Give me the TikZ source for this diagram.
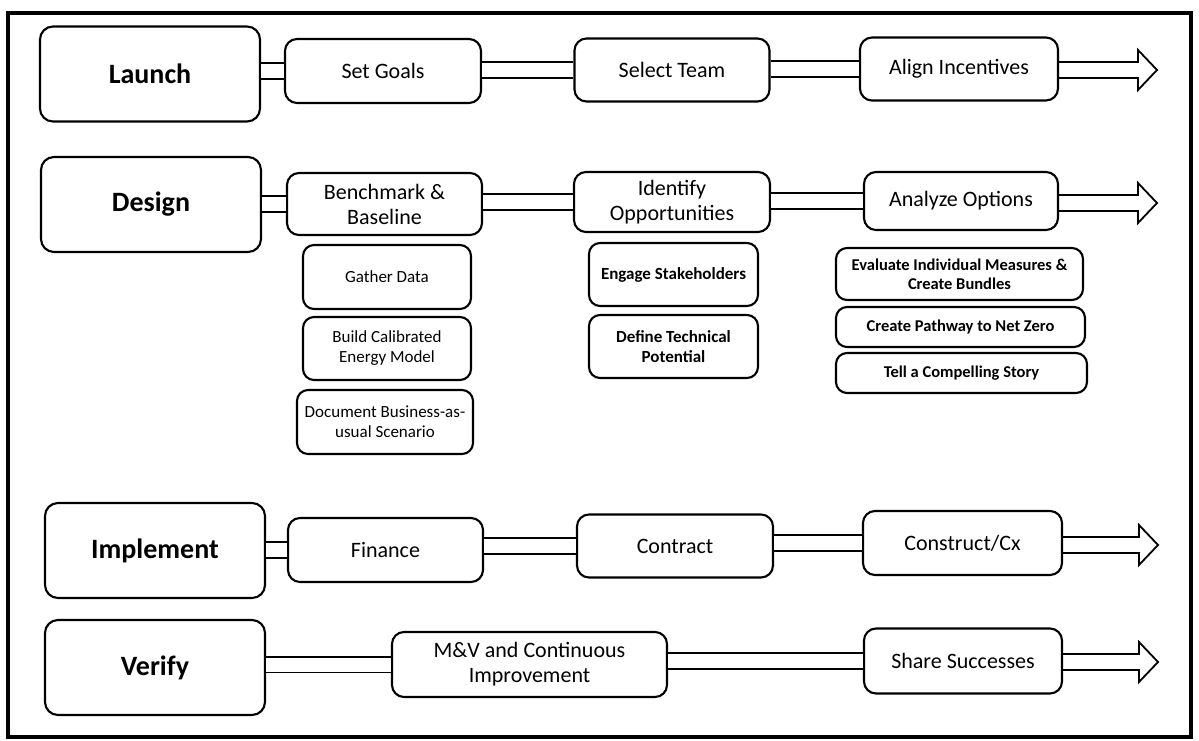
\documentclass[tikz,border=0pt]{standalone}
\usepackage{fontspec}
\setmainfont{Carlito}
\usetikzlibrary{calc}
\newcommand{\bigarr}[2]{\draw[bigarrow] ($(#1.east|-#2)+(0,-8)$) -- ($(#2)+(-19,-8)$) -- ($(#2)+(-19,-20)$) -- (#2) -- ($(#2)+(-19,20)$) -- ($(#2)+(-19,8)$) -- ($(#1.east|-#2)+(0,8)$);}
\begin{document}
\begin{tikzpicture}[x=1pt,y=-1pt,
  mainbox/.style={draw,line width=2.1pt,rounded corners=13pt,minimum width=220pt,minimum height=95pt,inner sep=0pt,font=\fontsize{28}{30}\selectfont\bfseries},
  stepbox/.style={draw,line width=2.1pt,rounded corners=12pt,inner sep=0pt,align=center,font=\fontsize{22}{25}\selectfont},
  subbox/.style={draw,line width=2.1pt,rounded corners=11pt,inner sep=0pt,align=center,font=\fontsize{17}{20}\selectfont},
  subboxb/.style={subbox,font=\fontsize{16.5}{19}\selectfont\bfseries},
  link/.style={double distance=14pt,line width=1.7pt},
  bigarrow/.style={line width=1.8pt,line join=miter}
]
\useasboundingbox (0,0) rectangle (1199,741);
\draw[line width=4.5pt] (8,13) rectangle (1191,737);

% Row 1
\node[mainbox] (launch) at (150,74) {Launch};
\node[stepbox,minimum width=196pt,minimum height=64pt] (setgoals) at (383,71) {Set Goals};
\node[stepbox,minimum width=195pt,minimum height=63pt] (team) at (672,70) {Select Team};
\node[stepbox,minimum width=198pt,minimum height=63pt] (align) at (959,69) {Align Incentives};
\coordinate (tip1) at (1157,70);
\draw[link] (launch.east|-setgoals.west) -- (setgoals.west);
\draw[link] (setgoals.east|-team.west) -- (team.west);
\draw[link] (team.east|-align.west) -- (align.west);
\bigarr{align}{tip1}

% Row 2
\node[mainbox] (design) at (151,204.5) {Design};
\node[stepbox,minimum width=195pt,minimum height=62pt] (bench) at (384.5,204) {Benchmark \&\\Baseline};
\node[stepbox,minimum width=196pt,minimum height=60pt] (ident) at (672,202) {Identify\\Opportunities};
\node[stepbox,minimum width=194pt,minimum height=58pt] (analyze) at (961,201) {Analyze Options};
\coordinate (tip2) at (1157,203);
\draw[link] (design.east|-bench.west) -- (bench.west);
\draw[link] (bench.east|-ident.west) -- (ident.west);
\draw[link] (ident.east|-analyze.west) -- (analyze.west);
\bigarr{analyze}{tip2}

% Sub-steps
\node[subbox,minimum width=168pt,minimum height=64pt] (gather) at (387,277) {Gather Data};
\node[subbox,minimum width=168pt,minimum height=63pt] (build) at (387,348.5) {Build Calibrated\\Energy Model};
\node[subbox,minimum width=176pt,minimum height=64pt] (docu) at (385,422) {Document Business-as-\\usual Scenario};
\node[subboxb,font=\fontsize{17}{20}\selectfont\bfseries,minimum width=169pt,minimum height=63pt] (engage) at (673.5,274.5) {Engage Stakeholders};
\node[subboxb,font=\fontsize{17}{20}\selectfont\bfseries,minimum width=169pt,minimum height=63pt] (define) at (673.5,346.5) {Define Technical\\Potential};
\node[subboxb,minimum width=247pt,minimum height=52pt] (evaluate) at (959.5,274) {Evaluate Individual Measures \&\\Create Bundles};
\node[subboxb,minimum width=249pt,minimum height=40pt] (pathway) at (960.5,327) {Create Pathway to Net Zero};
\node[subboxb,minimum width=251pt,minimum height=40pt] (story) at (961.5,373) {Tell a Compelling Story};

% Row 3
\node[mainbox] (implement) at (155,550.5) {Implement};
\node[stepbox,minimum width=195pt,minimum height=64pt] (finance) at (385.5,550) {Finance};
\node[stepbox,minimum width=196pt,minimum height=63pt] (contract) at (675,546) {Contract};
\node[stepbox,minimum width=199pt,minimum height=64pt] (construct) at (962.5,543) {Construct/Cx};
\coordinate (tip3) at (1158,545);
\draw[link] (implement.east|-finance.west) -- (finance.west);
\draw[link] (finance.east|-contract.west) -- (contract.west);
\draw[link] (contract.east|-construct.west) -- (construct.west);
\bigarr{construct}{tip3}

% Row 4
\node[mainbox] (verify) at (155,667.5) {Verify};
\node[stepbox,minimum width=275pt,minimum height=65pt] (mv) at (529.5,664.5) {M\&V and Continuous\\Improvement};
\node[stepbox,minimum width=198pt,minimum height=65pt] (share) at (963,661) {Share Successes};
\coordinate (tip4) at (1158,662);
\draw[link] (verify.east|-mv.west) -- (mv.west);
\draw[link] (mv.east|-share.west) -- (share.west);
\bigarr{share}{tip4}
\end{tikzpicture}
\end{document}
